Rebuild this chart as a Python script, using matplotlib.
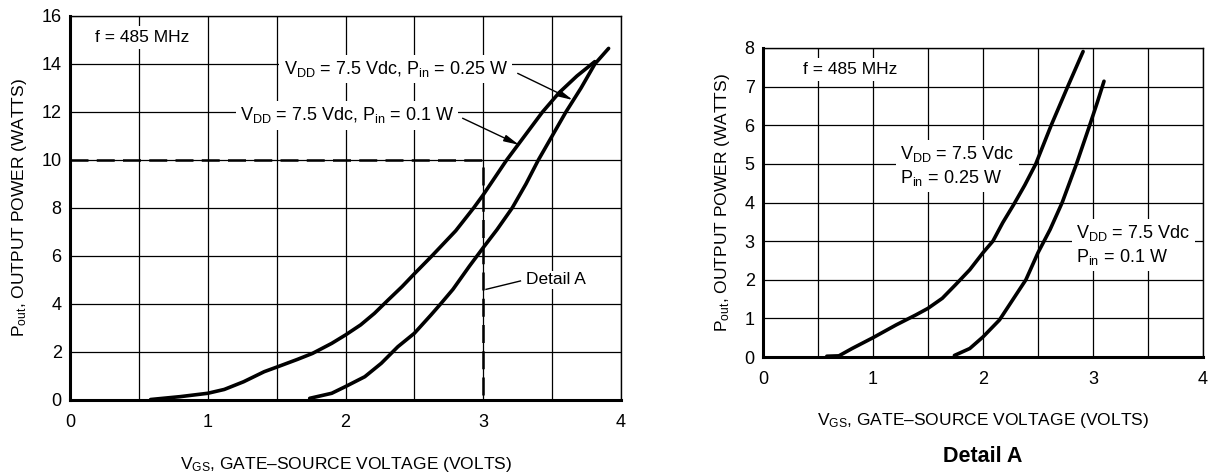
import matplotlib
matplotlib.use('Agg')
import matplotlib.pyplot as plt
import numpy as np

plt.rcParams['font.family'] = ['Liberation Sans', 'DejaVu Sans']
plt.rcParams['mathtext.fontset'] = 'custom'
plt.rcParams['mathtext.rm'] = 'Liberation Sans'
plt.rcParams['mathtext.it'] = 'Liberation Sans:italic'

# ---- main chart: Pout vs VGS (f = 485 MHz) ----
vgs_01 = [0.585, 0.8, 1.0, 1.12, 1.26, 1.41, 1.51, 1.65, 1.76, 1.9, 2.0, 2.11,
          2.21, 2.31, 2.41, 2.5, 2.63, 2.80, 2.93, 3.0, 3.17, 3.3, 3.43, 3.55,
          3.68, 3.81]
pout_01 = [0.02, 0.14, 0.28, 0.44, 0.76, 1.18, 1.39, 1.69, 1.94, 2.36, 2.71, 3.13,
           3.61, 4.17, 4.72, 5.26, 6.02, 7.05, 8.0, 8.55, 10.0, 11.0, 12.0, 12.8,
           13.5, 14.1]

vgs_025 = [1.74, 1.9, 2.0, 2.14, 2.26, 2.38, 2.5, 2.62, 2.69, 2.78, 2.90, 3.0,
           3.1, 3.21, 3.31, 3.40, 3.50, 3.60, 3.71, 3.81, 3.91]
pout_025 = [0.07, 0.28, 0.56, 0.97, 1.53, 2.22, 2.78, 3.54, 4.0, 4.61, 5.58, 6.35,
            7.1, 8.0, 9.0, 10.0, 11.0, 12.0, 13.0, 14.0, 14.65]

# ---- Detail A ----
det_vgs_025 = [0.58, 0.69, 0.81, 1.0, 1.21, 1.39, 1.5, 1.63, 1.75, 1.88, 2.0,
               2.09, 2.18, 2.28, 2.38, 2.48, 2.62, 2.77, 2.91]
det_pout_025 = [0.02, 0.03, 0.22, 0.50, 0.83, 1.09, 1.26, 1.52, 1.87, 2.26, 2.70,
                3.0, 3.48, 3.95, 4.45, 5.0, 6.0, 7.0, 7.91]

det_vgs_01 = [1.74, 1.88, 2.0, 2.15, 2.27, 2.39, 2.5, 2.61, 2.72, 2.85, 2.97,
              3.04, 3.10]
det_pout_01 = [0.04, 0.22, 0.52, 0.96, 1.48, 2.0, 2.70, 3.3, 4.0, 5.0, 6.0,
               6.6, 7.14]

lbl_025 = 'V$_{\\mathregular{DD}}$ = 7.5 Vdc, P$_{\\mathregular{in}}$ = 0.25 W'
lbl_01 = 'V$_{\\mathregular{DD}}$ = 7.5 Vdc, P$_{\\mathregular{in}}$ = 0.1 W'
xlab = 'V$_{\\mathregular{GS}}$, GATE\u2013SOURCE VOLTAGE (VOLTS)'
ylab = 'P$_{\\mathregular{out}}$, OUTPUT POWER (WATTS)'

fig = plt.figure(figsize=(12.09, 4.72), dpi=100)
ax1 = fig.add_axes([70 / 1209, 72 / 472, 551 / 1209, 384 / 472])
ax2 = fig.add_axes([763 / 1209, 115 / 472, 440 / 1209, 309 / 472])


def style(ax, ymax, ystep):
    ax.set_xlim(0, 4)
    ax.set_ylim(0, ymax)
    ax.set_xticks(range(5))
    ax.set_xticks(np.arange(0.5, 4, 1.0), minor=True)
    ax.set_yticks(np.arange(0, ymax + 0.1, ystep))
    ax.set_axisbelow(True)
    ax.grid(True, which='both', color='black', lw=0.9)
    ax.tick_params(which='both', length=0)
    ax.tick_params(axis='x', pad=10, labelsize=13)
    ax.tick_params(axis='y', pad=6, labelsize=13)
    ax.spines['left'].set_linewidth(2.2)
    ax.spines['bottom'].set_linewidth(2.2)
    ax.spines['top'].set_linewidth(1.0)
    ax.spines['right'].set_linewidth(1.0)
    ax.set_xlabel(xlab, fontsize=12.5, labelpad=17)
    ax.set_ylabel(ylab, fontsize=12.5, labelpad=9)


style(ax1, 16, 2)
style(ax2, 8, 1)

box = dict(fc='white', ec='none', pad=3)
curve = dict(color='black', lw=2.6, solid_capstyle='round', solid_joinstyle='round', zorder=3)

# main chart
ax1.plot(vgs_01, pout_01, **curve)
ax1.plot(vgs_025, pout_025, **curve)
ax1.plot([0, 3, 3], [10, 10, 0], color='black', lw=1.8, dashes=(7.2, 3.3), zorder=2.5)

ax1.text(0.18, 15.1, 'f = 485 MHz', fontsize=12.5, va='center', bbox=box, zorder=2)
ax1.text(3.18, 13.79, lbl_025, fontsize=13, va='center', ha='right', bbox=box, zorder=2)
ax1.text(2.79, 11.86, lbl_01, fontsize=13, va='center', ha='right', bbox=box, zorder=2)
arrow = dict(arrowstyle='-|>,head_length=0.9,head_width=0.2', color='black', lw=1.0,
             shrinkA=0, shrinkB=0)
ax1.annotate('', xy=(3.65, 12.5), xytext=(3.25, 13.61), arrowprops=arrow, zorder=4)
ax1.annotate('', xy=(3.26, 10.63), xytext=(2.85, 11.74), arrowprops=arrow, zorder=4)

ax1.text(3.31, 5.0, 'Detail A', fontsize=12.5, va='center',
         bbox=dict(fc='white', ec='none', pad=1), zorder=2)
ax1.plot([3.02, 3.27], [4.61, 4.96], color='black', lw=1.0)

# Detail A
ax2.plot(det_vgs_025, det_pout_025, **curve)
ax2.plot(det_vgs_01, det_pout_01, **curve)
ax2.text(0.36, 7.44, 'f = 485 MHz', fontsize=12.5, va='center', bbox=box, zorder=2)
ax2.text(1.25, 4.95, 'V$_{\\mathregular{DD}}$ = 7.5 Vdc\nP$_{\\mathregular{in}}$ = 0.25 W',
         fontsize=13, va='center', linespacing=1.25, bbox=box, zorder=2)
ax2.text(2.85, 2.9, 'V$_{\\mathregular{DD}}$ = 7.5 Vdc\nP$_{\\mathregular{in}}$ = 0.1 W',
         fontsize=13, va='center', linespacing=1.25, bbox=box, zorder=2)

fig.text(983 / 1209, 1 - 457 / 472, 'Detail A', ha='center', va='center',
         fontsize=15.5, fontweight='bold')

fig.savefig('out.png', dpi=100)
